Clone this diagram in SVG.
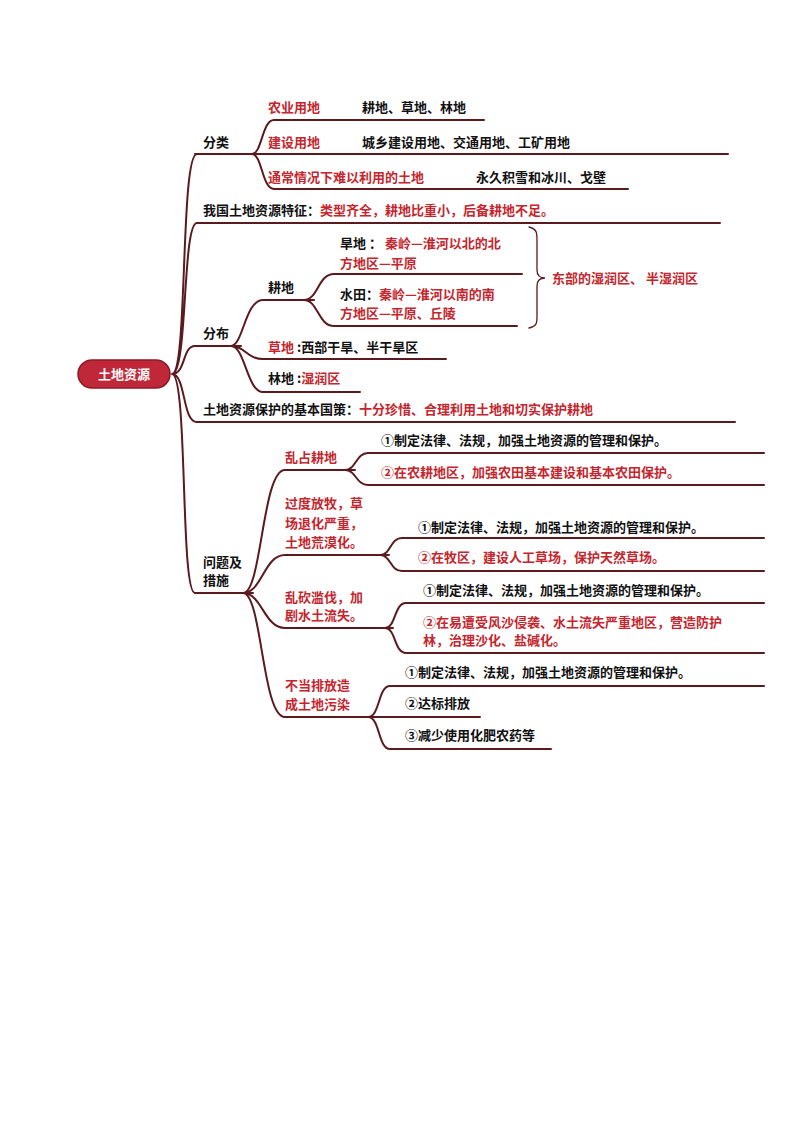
<svg xmlns="http://www.w3.org/2000/svg" width="794" height="1123" viewBox="0 0 794 1123">
<style>
text{font-family:"Noto Sans CJK SC","Noto Sans",sans-serif;font-size:13px;font-weight:600;fill:#111}
.r{fill:#c4262e}
#links path{fill:none;stroke:#5a1a1e;stroke-width:2;stroke-linecap:round}
</style>
<rect width="794" height="1123" fill="#fff"/>
<g id="links">
<path d="M172 374C188 374 180 154 197 154M172 374C188 374 182 223 197 223M172 374C186 374 182 346 195 346M172 374C186 374 182 422 197 422M172 374C188 374 180 593 195 593"/>
<path d="M195 154H728M252 154C262 154 262 120 274 120H484M252 154C262 154 262 189 274 189H628"/>
<path d="M197 223H720"/>
<path d="M195 346H241M231 346C243 346 245 300 263 300H314M231 346C245 346 247 359 263 359H446M231 346C245 346 247 392 263 392H360"/>
<path d="M304 300C318 300 318 274 334 274H522M304 300C318 300 318 326 334 326H517"/>
<path d="M529 227C537 229 537 233 537 240V270C537 275 540 278 545 278C540 278 537 281 537 286V316C537 323 537 326 529 328" style="stroke-width:1.3"/>
<path d="M197 422H735"/>
<path d="M195 593H253M243 593C262 593 262 470 285 470H355M243 593C262 593 264 555 285 555H389M243 593C262 593 264 628 285 628H393M243 593C262 593 262 717 285 717H376"/>
<path d="M345 470C356 470 356 453 368 453H764M345 470C356 470 356 485 368 485H764"/>
<path d="M380 555C391 555 390 538 402 538H764M380 555C391 555 390 571 402 571H764"/>
<path d="M385 628C396 628 394 603 406 603H764M385 628C396 628 394 653 406 653H764"/>
<path d="M368 717C380 717 378 686 390 686H764M368 717H480M368 717C380 717 378 749 390 749H551"/>
</g>
<g id="root"><rect x="78" y="360" width="92" height="28" rx="14" fill="#c0283a" stroke="#8a1a24" stroke-width="1.5"/><text x="124" y="379" text-anchor="middle" style="fill:#fff">土地资源</text></g>
<g id="n-fenlei"><text x="203" y="147">分类</text></g>
<g id="n-nongye"><text x="268" y="112" class="r">农业用地</text><text x="362" y="112">耕地、草地、林地</text></g>
<g id="n-jianshe"><text x="268" y="147" class="r">建设用地</text><text x="362" y="147">城乡建设用地、交通用地、工矿用地</text></g>
<g id="n-nanyi"><text x="268" y="182" class="r">通常情况下难以利用的土地</text><text x="476" y="182">永久积雪和冰川、戈壁</text></g>
<g id="n-tezheng"><text x="203" y="215">我国土地资源特征：<tspan class="r">类型齐全，耕地比重小，后备耕地不足。</tspan></text></g>
<g id="n-fenbu"><text x="203" y="338">分布</text></g>
<g id="n-gengdi"><text x="268" y="292">耕地</text></g>
<g id="n-handi"><text x="340" y="248">旱地 ： <tspan class="r">秦岭—淮河以北的北</tspan></text><text x="340" y="268" class="r">方地区—平原</text></g>
<g id="n-shuitian"><text x="340" y="299">水田：<tspan class="r">秦岭—淮河以南的南</tspan></text><text x="340" y="318" class="r">方地区—平原、丘陵</text></g>
<g id="n-dongbu"><text x="552" y="283" class="r">东部的湿润区、 半湿润区</text></g>
<g id="n-caodi"><text x="268" y="352"><tspan class="r">草地</tspan> :西部干旱、半干旱区</text></g>
<g id="n-lindi"><text x="268" y="383">林地 :<tspan class="r">湿润区</tspan></text></g>
<g id="n-guoce"><text x="203" y="414">土地资源保护的基本国策：<tspan class="r">十分珍惜、合理利用土地和切实保护耕地</tspan></text></g>
<g id="n-wenti"><text x="203" y="567">问题及</text><text x="203" y="585">措施</text></g>
<g id="n-luanzhan"><text x="285" y="462" class="r">乱占耕地</text><text x="381" y="445">①制定法律、法规，加强土地资源的管理和保护。</text><text x="381" y="477" class="r">②在农耕地区，加强农田基本建设和基本农田保护。</text></g>
<g id="n-guodu"><text x="285" y="508" class="r">过度放牧，草</text><text x="285" y="528" class="r">场退化严重，</text><text x="285" y="547" class="r">土地荒漠化。</text><text x="418" y="532">①制定法律、法规，加强土地资源的管理和保护。</text><text x="418" y="562" class="r">②在牧区，建设人工草场，保护天然草场。</text></g>
<g id="n-luankan"><text x="285" y="602" class="r">乱砍滥伐，加</text><text x="285" y="620" class="r">剧水土流失。</text><text x="423" y="595">①制定法律、法规，加强土地资源的管理和保护。</text><text x="423" y="627" class="r">②在易遭受风沙侵袭、水土流失严重地区，营造防护</text><text x="423" y="645" class="r">林，治理沙化、盐碱化。</text></g>
<g id="n-paifang"><text x="285" y="690" class="r">不当排放造</text><text x="285" y="709" class="r">成土地污染</text><text x="405" y="677">①制定法律、法规，加强土地资源的管理和保护。</text><text x="405" y="708">②达标排放</text><text x="405" y="740">③减少使用化肥农药等</text></g>
</svg>
